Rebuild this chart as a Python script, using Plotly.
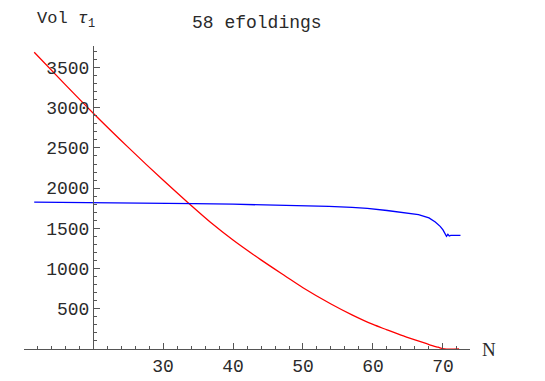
import plotly.graph_objects as go

# === données ===
n_red = [11.6, 16, 20, 25, 30, 33.5, 37, 40, 44, 47.5, 50, 54, 57, 60, 62, 64, 66, 68, 69.3, 70.2, 72.3]
vol_red = [3690, 3290, 2935, 2510, 2100, 1825, 1560, 1355, 1108, 905, 762, 560, 425, 305, 238, 172, 112, 55, 22, 0, 0]

n_blue = [11.6, 20, 30, 34.4, 40, 45, 50, 53.7, 57, 59.2, 62, 64, 66.5, 68, 68.9, 69.6, 70, 70.5, 70.7, 70.9, 71.1, 72.5]
vol_blue = [1826, 1822, 1815, 1808, 1800, 1792, 1782, 1772, 1760, 1748, 1722, 1700, 1671, 1630, 1580, 1525, 1480, 1400, 1425, 1405, 1412, 1412]

x_ticks = [30, 40, 50, 60, 70]
y_ticks = [500, 1000, 1500, 2000, 2500, 3000, 3500]

x_range = [10.14, 73.86]
y_range = [0, 3767]
x_cross = 20  # l'axe vertical coupe à N = 20

mono = "Liberation Mono, Courier New, monospace"
serif = "Liberation Serif, Times New Roman, serif"
axis_col = "#555555"
txt_col = "#2a2a2a"

# zone du tracé (pixels)
L, R, T, B = 16, 83, 38, 19
W, H = 545, 381
pw, ph = W - L - R, H - T - B


def px(x):
    return (x - L) / pw


def py(y):
    return (H - B - y) / ph


fig = go.Figure()
fig.add_trace(go.Scatter(x=n_red, y=vol_red, mode="lines",
                         line=dict(color="#ff0000", width=1.3, shape="spline", smoothing=0.8)))
fig.add_trace(go.Scatter(x=n_blue, y=vol_blue, mode="lines",
                         line=dict(color="#0000ff", width=1.3)))

ypos = (x_cross - x_range[0]) / (x_range[1] - x_range[0])

fig.update_layout(
    width=W, height=H,
    margin=dict(l=L, r=R, t=T, b=B),
    plot_bgcolor="white", paper_bgcolor="white",
    showlegend=False,
    xaxis=dict(range=x_range, showgrid=False, zeroline=False,
               showline=True, linecolor=axis_col, linewidth=1,
               tickvals=x_ticks, ticks="inside", ticklen=6, tickcolor=axis_col,
               minor=dict(dtick=2, tick0=0, ticks="inside", ticklen=3, tickcolor=axis_col),
               tickfont=dict(family=mono, size=18, color=txt_col)),
    yaxis=dict(range=y_range, showgrid=False, zeroline=False,
               anchor="free", position=ypos,
               showline=True, linecolor=axis_col, linewidth=1,
               tickvals=y_ticks, ticks="inside", ticklen=6, tickcolor=axis_col,
               minor=dict(dtick=100, tick0=0, ticks="inside", ticklen=3, tickcolor=axis_col),
               tickfont=dict(family=mono, size=18, color=txt_col)),
)

fig.add_annotation(text="58 efoldings", xref="paper", yref="paper",
                   x=px(249), y=py(13), showarrow=False,
                   xanchor="center", yanchor="middle",
                   font=dict(family=mono, size=18, color=txt_col))
fig.add_annotation(text="Vol <i>τ</i><sub>1</sub>",
                   xref="paper", yref="paper",
                   x=px(27), y=py(10), showarrow=False,
                   xanchor="left", yanchor="middle",
                   font=dict(family=mono, size=17, color=txt_col))
fig.add_annotation(text="N", xref="paper", yref="paper",
                   x=px(481), y=py(362), showarrow=False,
                   xanchor="center", yanchor="middle",
                   font=dict(family=serif, size=19, color=txt_col))

fig.write_html("out.html")
